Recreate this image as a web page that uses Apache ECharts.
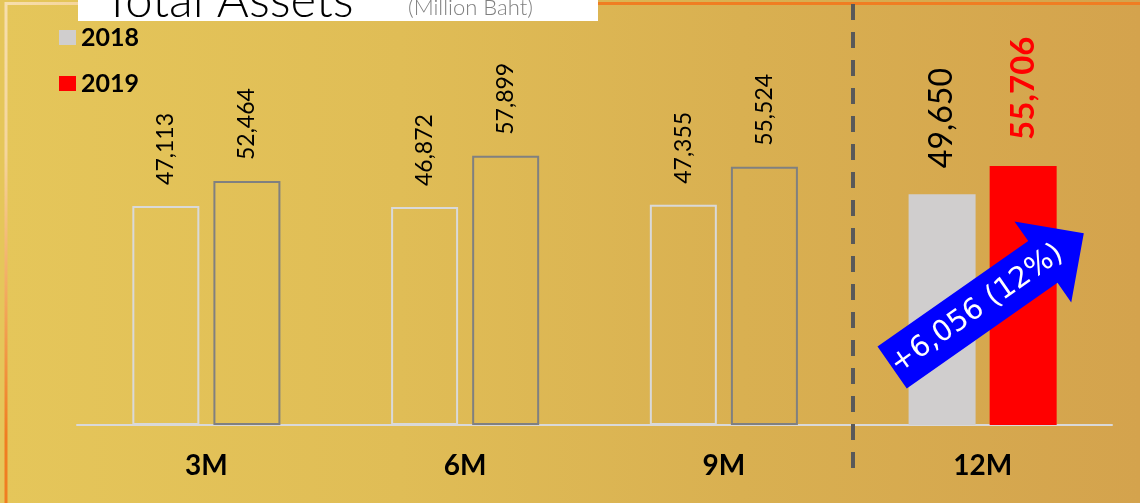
<!DOCTYPE html>
<html>
<head>
<meta charset="utf-8">
<script src="https://cdn.jsdelivr.net/npm/echarts@6/dist/echarts.min.js"></script>
<style>
  html, body { margin: 0; padding: 0; }
  body {
    width: 1140px; height: 503px; overflow: hidden;
    background: linear-gradient(90deg, #e5c65a 0%, #e0bd56 35%, #d9b051 65%, #d4a34d 100%);
  }
  #chart { width: 1140px; height: 503px; }
</style>
</head>
<body>
<div id="chart"></div>
<script>
// ---- data ----
const categories = ['3M', '6M', '9M', '12M'];
const seriesNames = ['2018', '2019'];
const values2018 = [47113, 46872, 47355, 49650];
const values2019 = [52464, 57899, 55524, 55706];
const titleMain = 'Total Assets';
const titleSub = '(Million Baht)';
const changeText = '+6,056 (12%)';

// ---- styles ----
const FONT = 'Lato, "Open Sans", sans-serif';
const fmt = v => Number(v).toLocaleString('en-US');

function buildData(values, isLatest) {
  return values.map((v, i) => {
    const last = i === values.length - 1;
    if (!last) {
      return {
        value: v,
        itemStyle: {
          color: 'rgba(0,0,0,0)',
          borderColor: isLatest ? '#808080' : '#d9d9d9',
          borderWidth: 2
        },
        label: { fontSize: 23, color: '#000', fontWeight: 'normal', distance: 21 }
      };
    }
    return {
      value: v,
      itemStyle: { color: isLatest ? '#ff0000' : '#d0cece', borderWidth: 0 },
      label: {
        fontSize: isLatest ? 33 : 32,
        color: isLatest ? '#ff0000' : '#000',
        fontWeight: isLatest ? 'bold' : 'normal',
        distance: 26
      }
    };
  });
}

const baseLabel = {
  show: true,
  position: 'top',
  rotate: 90,
  align: 'left',
  verticalAlign: 'middle',
  fontFamily: FONT,
  formatter: p => fmt(p.value)
};

const chart = echarts.init(document.getElementById('chart'), null, { renderer: 'canvas' });

chart.setOption({
  backgroundColor: 'transparent',
  animation: false,
  grid: { left: 77, right: 28, top: 53, bottom: 78 },
  legend: {
    data: seriesNames,
    orient: 'vertical',
    left: 54,
    top: 20,
    itemWidth: 17,
    itemHeight: 15,
    itemGap: 21,
    icon: 'rect',
    textStyle: { fontFamily: FONT, fontSize: 25, fontWeight: 'bold', color: '#000' }
  },
  xAxis: {
    type: 'category',
    data: categories,
    axisLine: { lineStyle: { color: '#d9d9d9', width: 2 } },
    axisTick: { show: false },
    axisLabel: { fontFamily: FONT, fontSize: 28, fontWeight: 'bold', color: '#000', margin: 27 }
  },
  yAxis: {
    type: 'value',
    min: 0,
    max: 80000,
    show: false,
    splitLine: { show: false }
  },
  series: [
    {
      name: seriesNames[0],
      type: 'bar',
      barWidth: 67,
      barGap: '21%',
      itemStyle: { color: '#d0cece' },
      label: baseLabel,
      data: buildData(values2018, false)
    },
    {
      name: seriesNames[1],
      type: 'bar',
      barWidth: 67,
      barGap: '21%',
      itemStyle: { color: '#ff0000' },
      label: baseLabel,
      data: buildData(values2019, true)
    }
  ]
});

// ---- annotations positioned from the chart's own scales ----
const p9 = chart.convertToPixel({ xAxisIndex: 0, yAxisIndex: 0 }, [2, 0]);
const p12 = chart.convertToPixel({ xAxisIndex: 0, yAxisIndex: 0 }, [3, 0]);
const dividerX = Math.round((p9[0] + p12[0]) / 2);
const baseY = p12[1];

// arrow geometry (local coords: tail at 0, pointing +x)
const shaftHalf = 25.5, headHalf = 49.5, headStart = 184, tip = 234;
const arrowPts = [
  [0, -shaftHalf], [headStart, -shaftHalf], [headStart, -headHalf],
  [tip, 0], [headStart, headHalf], [headStart, shaftHalf], [0, shaftHalf]
];

chart.setOption({
  graphic: [
    {
      type: 'rect',
      silent: true,
      z: 0,
      shape: { x: 6, y: 3.5, width: 1250, height: 620 },
      style: {
        fill: 'none',
        lineWidth: 3,
        stroke: new echarts.graphic.LinearGradient(0, 0, 1, 1, [
          { offset: 0, color: '#f7dfae' },
          { offset: 0.05, color: '#f5d59c' },
          { offset: 0.14, color: '#f07d22' },
          { offset: 1, color: '#f07d22' }
        ])
      }
    },
    {
      type: 'rect',
      silent: true,
      z: 10,
      shape: { x: 78, y: -5, width: 520, height: 26 },
      style: { fill: '#ffffff' }
    },
    {
      type: 'text',
      silent: true,
      z: 11,
      x: 103, y: 1,
      style: {
        text: titleMain,
        fontFamily: FONT, fontSize: 49, fontWeight: 300,
        fill: '#000', verticalAlign: 'middle', align: 'left'
      }
    },
    {
      type: 'text',
      silent: true,
      z: 11,
      x: 408, y: 8,
      style: {
        text: titleSub,
        fontFamily: FONT, fontSize: 22, fontWeight: 300,
        fill: '#7f7f7f', verticalAlign: 'middle', align: 'left'
      }
    },
    {
      type: 'line',
      silent: true,
      z: 5,
      shape: { x1: dividerX, y1: 4, x2: dividerX, y2: 468 },
      style: { stroke: '#595959', lineWidth: 4, lineDash: [16, 12] }
    },
    {
      type: 'group',
      silent: true,
      z: 100,
      x: p12[0] - 90.5,
      y: baseY - 57.5,
      rotation: 35 * Math.PI / 180,
      children: [
        {
          type: 'polygon',
          z: 100,
          shape: { points: arrowPts },
          style: { fill: '#0000ff' }
        },
        {
          type: 'text',
          z: 101,
          x: 103, y: 1,
          style: {
            text: changeText,
            fontFamily: '"DejaVu Sans", sans-serif',
            fontSize: 29,
            fill: '#ffffff',
            align: 'center',
            verticalAlign: 'middle'
          }
        }
      ]
    }
  ]
});
</script>
</body>
</html>
